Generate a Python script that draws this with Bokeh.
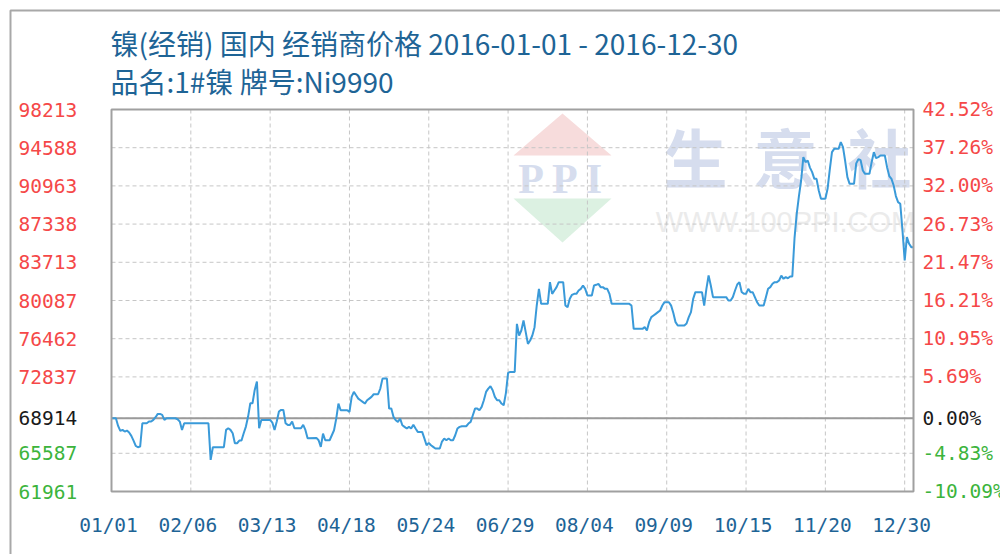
from bokeh.plotting import figure
from bokeh.models import Range1d
from bokeh.core.properties import value
from bokeh.embed import file_html
from bokeh.resources import INLINE

# ---------------- data ----------------
title_text = "镍(经销) 国内 经销商价格 2016-01-01 - 2016-12-30"
subtitle_text = "品名:1#镍 牌号:Ni9990"
x_tick_labels = ["01/01", "02/06", "03/13", "04/18", "05/24", "06/29",
                 "08/04", "09/09", "10/15", "11/20", "12/30"]
y_ticks = [98213, 94588, 90963, 87338, 83713, 80087, 76462, 72837, 68914, 65587, 61961]
pct_labels = ["42.52%", "37.26%", "32.00%", "26.73%", "21.47%", "16.21%",
              "10.95%", "5.69%", "0.00%", "-4.83%", "-10.09%"]

# day offset from 2016-01-01 and price (yuan/ton)
days = [0, 2, 3, 4, 5, 6, 7, 8, 9, 10, 11, 12, 13, 14, 15, 16, 17, 18, 19, 20,
        21, 22, 23, 24, 25, 29, 30, 31, 32, 33, 44, 45, 46, 51, 52, 53, 54, 55, 56, 57,
        58, 59, 60, 61, 62, 63, 64, 65, 66, 67, 68, 72, 73, 74, 75, 76, 77, 78, 79, 80,
        81, 82, 83, 86, 87, 88, 89, 93, 94, 95, 96, 97, 99, 100, 101, 102, 103, 104, 107, 108,
        109, 110, 111, 112, 113, 114, 115, 116, 117, 118, 119, 121, 122, 123, 125, 126, 127, 128, 129, 130,
        131, 132, 133, 134, 135, 136, 137, 138, 139, 141, 142, 143, 144, 145, 146, 147, 149, 150, 151, 152,
        153, 154, 155, 156, 157, 158, 159, 161, 162, 163, 164, 165, 166, 167, 168, 169, 170, 171, 172, 173,
        174, 175, 176, 177, 178, 179, 180, 181, 183, 184, 185, 186, 187, 188, 189, 190, 191, 192, 193, 194,
        195, 198, 199, 200, 201, 202, 203, 205, 206, 207, 208, 209, 210, 211, 212, 213, 214, 215, 216, 218,
        219, 220, 221, 222, 223, 224, 225, 226, 227, 235, 236, 237, 241, 242, 243, 244, 245, 246, 247, 248,
        249, 250, 251, 253, 254, 255, 256, 257, 260, 261, 262, 263, 264, 265, 268, 269, 270, 271, 272, 273,
        279, 280, 281, 282, 283, 284, 285, 286, 287, 288, 289, 290, 291, 292, 293, 294, 296, 297, 298, 299,
        300, 301, 302, 303, 304, 305, 306, 307, 308, 309, 310, 311, 312, 313, 314, 315, 316, 317, 318, 319,
        320, 321, 322, 324, 325, 326, 327, 328, 330, 331, 332, 333, 334, 335, 337, 338, 339, 340, 341, 342,
        344, 345, 346, 347, 348, 349, 351, 352, 353, 354, 355, 356, 357, 358, 359, 360, 361, 362, 363, 364]
prices = [68914, 68914, 68186, 67712, 67807, 67649, 67744, 67554, 67237, 66794, 66288, 66162, 66225, 68439, 68439, 68439, 68597, 68597, 68755, 69009,
          69325, 69325, 69230, 68755, 68914, 68914, 68819, 68597, 67807, 68439, 68439, 64960, 66162, 66162, 67807, 67965, 67807, 67490, 66541, 66541,
          66794, 66794, 67490, 68123, 69072, 70337, 70337, 71602, 72393, 67965, 68755, 68755, 68502, 67807, 68597, 69546, 69704, 69704, 68439, 68281,
          68281, 68597, 67965, 67965, 68281, 67807, 67016, 67047, 66825, 66193, 67458, 66825, 66825, 67300, 67774, 68882, 70305, 69672, 69672, 69514,
          70937, 71412, 71095, 70779, 70621, 70463, 70305, 70621, 70779, 70937, 71190, 71190, 71728, 72676, 72676, 69830, 69830, 69040, 68723, 68565,
          68882, 68249, 68091, 67933, 68091, 67933, 68300, 67933, 67616, 67616, 67000, 66351, 66573, 66351, 66193, 66035, 66035, 66700, 66984, 66825,
          66984, 66825, 66825, 67300, 67933, 68091, 68154, 68154, 68407, 68565, 69198, 69830, 69830, 69672, 69988, 70621, 71412, 71728, 71950, 71570,
          70937, 70621, 70621, 70305, 70147, 71300, 73215, 73309, 73309, 77873, 76766, 77240, 78189, 77082, 75975, 76291, 76766, 77557, 79612, 81194,
          79771, 79771, 81827, 80720, 81036, 81352, 81827, 81827, 79612, 79454, 80245, 80625, 80720, 80720, 81036, 81194, 81510, 81194, 80561, 80561,
          81510, 81574, 81668, 81352, 81352, 81194, 81194, 80720, 79771, 79771, 79612, 77398, 77398, 77557, 77240, 78031, 78505, 78664, 78822, 78980,
          79138, 79612, 79929, 79929, 79600, 78900, 78031, 77715, 77715, 77900, 78505, 78980, 80245, 80878, 80878, 79612, 81194, 82459, 81510, 80405,
          80405, 80089, 80089, 80405, 81038, 81607, 81828, 80900, 80721, 80721, 81196, 80880, 80880, 80405, 79930, 79614, 79614, 80405, 81196, 81354,
          81670, 81828, 81828, 81987, 82450, 82145, 82303, 82200, 82366, 82366, 86000, 88313, 90000, 91475, 93700, 93215, 93373, 92700, 92266, 91634,
          91634, 90527, 89736, 89736, 90685, 92500, 94164, 94480, 94480, 95113, 94639, 93300, 91792, 91159, 91159, 93100, 93500, 93400, 92424, 92108,
          92108, 93215, 94164, 93600, 93690, 93848, 93848, 92741, 91900, 91634, 91000, 90000, 89420, 89262, 86731, 83884, 86098, 85466, 85150, 85150]

base = prices[0]
x_ticks = [36 * i for i in range(len(x_tick_labels))]

# ---------------- layout (pixels) ----------------
W, H = 1000, 554
PL, PR, PT, PB = 111, 913, 109, 491          # plot-area edges on the canvas
xa, xb = days[0], days[-1]
ya, yb = y_ticks[-1], y_ticks[0]
sx = (PR - PL) / (xb - xa)
sy = (PB - PT) / (yb - ya)


def X(px):
    return xa + (px - PL) / sx


def Y(py):
    return yb - (py - PT) / sy


TITLE_C = "#1e6496"
RED = "#f54848"
GREEN = "#3cb43c"
BLACK = "#1a1a1a"
LINE_C = "#3a9ad9"
GRID_C = "#c6c6c6"
FRAME_C = "#a0a0a0"
MONO = "DejaVu Sans Mono"
CJK = "Noto Sans CJK SC"

p = figure(width=W, height=H, x_range=Range1d(X(0), X(W)), y_range=Range1d(Y(H), Y(0)),
           output_backend="svg", toolbar_location=None,
           x_axis_location=None, y_axis_location=None, min_border=0,
           background_fill_color="white", border_fill_color="white", outline_line_color=None)
p.grid.visible = False

# watermark (decoration)
p.patch([X(513), X(562), X(611)], [Y(155), Y(113), Y(155)], fill_color="#f7dcdc", line_color=None)
p.patch([X(513), X(611), X(562)], [Y(198), Y(198), Y(242)], fill_color="#dcf1e2", line_color=None)
p.text([X(562)], [Y(178)], text=["P P I"], text_font=value("Liberation Serif"), text_font_size="42px",
       text_font_style="bold", text_color="#d6ddee", text_align="center", text_baseline="middle")
p.text([X(695), X(785), X(879)], [Y(154)] * 3, text=["生", "意", "社"],
       text_font=value(CJK), text_font_size="64px", text_font_style="bold",
       text_color="#d6ddee", text_align="center", text_baseline="middle")
p.text([X(785)], [Y(221)], text=["WWW.100PPI.COM"], text_font=value("Liberation Sans"),
       text_font_size="29px", text_color="#ebebeb", text_align="center", text_baseline="middle")
# keep the watermark inside the plot area
p.quad(left=[X(PR + 1)], right=[X(W + 20)], top=[Y(PT)], bottom=[Y(PB)],
       fill_color="white", line_color=None)

# grid
p.segment(x0=x_ticks, y0=[ya] * len(x_ticks), x1=x_ticks, y1=[yb] * len(x_ticks),
          line_color=GRID_C, line_dash="4 3", line_width=1)
p.segment(x0=[xa] * len(y_ticks), y0=y_ticks, x1=[xb] * len(y_ticks), y1=y_ticks,
          line_color=GRID_C, line_dash="4 3", line_width=1)

# base (0%) line
p.segment(x0=[xa], y0=[base], x1=[xb], y1=[base], line_color="#9a9a9a", line_width=2)

# price line
p.line(days, prices, line_color=LINE_C, line_width=2)

# plot-area frame
p.quad(left=[xa], right=[xb], bottom=[ya], top=[yb], fill_color=None,
       line_color=FRAME_C, line_width=2)

# outer chart border
p.quad(left=[X(10)], right=[X(W + 40)], top=[Y(10)], bottom=[Y(H + 40)], fill_color=None,
       line_color="#a8a8a8", line_width=2)

# x tick labels
p.text([X(PL + (t - xa) * sx - 3) for t in x_ticks], [Y(PB + 34)] * len(x_ticks), text=x_tick_labels,
       text_font=value(MONO), text_font_size="19.5px", text_color=TITLE_C,
       text_align="center", text_baseline="middle")

# y tick labels (left: price, right: change vs. base)
colors = [RED if v > base else (BLACK if v == base else GREEN) for v in y_ticks]
p.text([X(18)] * len(y_ticks), y_ticks, text=[str(v) for v in y_ticks], text_color=colors,
       text_font=value(MONO), text_font_size="19.5px", text_align="left", text_baseline="middle")
p.text([X(922)] * len(y_ticks), y_ticks, text=pct_labels, text_color=colors,
       text_font=value(MONO), text_font_size="19.5px", text_align="left", text_baseline="middle")

# titles
p.text([X(110)], [Y(42)], text=[title_text], text_font=value(CJK), text_font_size="28px",
       text_color=TITLE_C, text_align="left", text_baseline="middle")
p.text([X(110)], [Y(80)], text=[subtitle_text], text_font=value(CJK), text_font_size="28px",
       text_color=TITLE_C, text_align="left", text_baseline="middle")

open("out.html", "w").write(file_html(p, INLINE))
